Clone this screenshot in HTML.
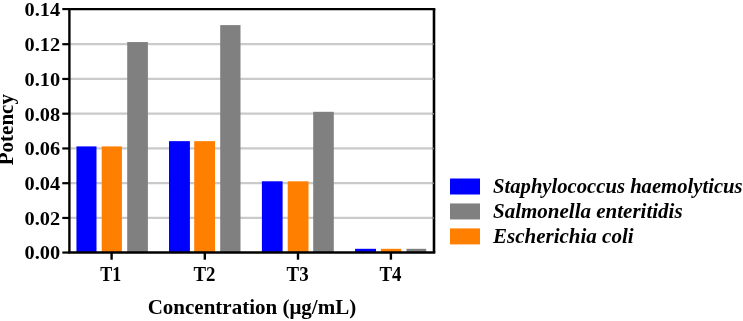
<!DOCTYPE html>
<html><head><meta charset="utf-8"><title>Potency chart</title>
<style>
html,body{margin:0;padding:0;background:#fff;overflow:hidden}
svg{display:block;will-change:transform}
text{font-family:"Liberation Serif",serif;font-weight:bold;fill:#000}
.tk{font-size:20px}
.yt{font-size:19.2px}
.ti{font-size:21px}
.lg{font-size:21px;font-style:italic}
</style></head>
<body>
<svg width="743" height="321" viewBox="0 0 743 321">
<line x1="69.4" y1="217.95" x2="434.0" y2="217.95" stroke="#cacaca" stroke-width="2.2"/>
<line x1="69.4" y1="183.20" x2="434.0" y2="183.20" stroke="#cacaca" stroke-width="2.2"/>
<line x1="69.4" y1="148.45" x2="434.0" y2="148.45" stroke="#cacaca" stroke-width="2.2"/>
<line x1="69.4" y1="113.70" x2="434.0" y2="113.70" stroke="#cacaca" stroke-width="2.2"/>
<line x1="69.4" y1="78.95" x2="434.0" y2="78.95" stroke="#cacaca" stroke-width="2.2"/>
<line x1="69.4" y1="44.20" x2="434.0" y2="44.20" stroke="#cacaca" stroke-width="2.2"/>
<rect x="76.45" y="146.4" width="20.05" height="106.15" fill="#0000ff"/>
<rect x="169.0" y="141.15" width="20.90" height="111.40" fill="#0000ff"/>
<rect x="261.9" y="181.3" width="20.70" height="71.25" fill="#0000ff"/>
<rect x="355.1" y="248.8" width="20.90" height="3.75" fill="#0000ff"/>
<rect x="101.7" y="146.4" width="20.20" height="106.15" fill="#ff8000"/>
<rect x="194.2" y="141.15" width="20.80" height="111.40" fill="#ff8000"/>
<rect x="287.7" y="181.3" width="20.80" height="71.25" fill="#ff8000"/>
<rect x="380.9" y="248.8" width="20.30" height="3.75" fill="#ff8000"/>
<rect x="127.2" y="42.05" width="20.70" height="210.50" fill="#808080"/>
<rect x="220.2" y="25.1" width="20.30" height="227.45" fill="#808080"/>
<rect x="313.2" y="111.8" width="20.60" height="140.75" fill="#808080"/>
<rect x="406.5" y="248.8" width="19.70" height="3.75" fill="#808080"/>
<line x1="68.2" y1="9.07" x2="435.3" y2="9.07" stroke="#000" stroke-width="2.15"/>
<line x1="68.2" y1="252.55" x2="435.3" y2="252.55" stroke="#000" stroke-width="2.4"/>
<line x1="69.4" y1="9.07" x2="69.4" y2="252.55" stroke="#000" stroke-width="2.4"/>
<line x1="434.0" y1="9.07" x2="434.0" y2="252.55" stroke="#000" stroke-width="2.6"/>
<line x1="432.6" y1="217.95" x2="433.8" y2="217.95" stroke="#a0a0a0" stroke-width="1.4"/>
<line x1="432.6" y1="183.20" x2="433.8" y2="183.20" stroke="#a0a0a0" stroke-width="1.4"/>
<line x1="432.6" y1="148.45" x2="433.8" y2="148.45" stroke="#a0a0a0" stroke-width="1.4"/>
<line x1="432.6" y1="113.70" x2="433.8" y2="113.70" stroke="#a0a0a0" stroke-width="1.4"/>
<line x1="432.6" y1="78.95" x2="433.8" y2="78.95" stroke="#a0a0a0" stroke-width="1.4"/>
<line x1="432.6" y1="44.20" x2="433.8" y2="44.20" stroke="#a0a0a0" stroke-width="1.4"/>
<line x1="62.3" y1="252.55" x2="69.4" y2="252.55" stroke="#000" stroke-width="2.2"/>
<text x="60.2" y="259.45" text-anchor="end" class="yt" textLength="35.6" lengthAdjust="spacingAndGlyphs">0.00</text>
<line x1="62.3" y1="217.95" x2="69.4" y2="217.95" stroke="#000" stroke-width="2.2"/>
<text x="60.2" y="224.85" text-anchor="end" class="yt" textLength="35.6" lengthAdjust="spacingAndGlyphs">0.02</text>
<line x1="62.3" y1="183.20" x2="69.4" y2="183.20" stroke="#000" stroke-width="2.2"/>
<text x="60.2" y="190.10" text-anchor="end" class="yt" textLength="35.6" lengthAdjust="spacingAndGlyphs">0.04</text>
<line x1="62.3" y1="148.45" x2="69.4" y2="148.45" stroke="#000" stroke-width="2.2"/>
<text x="60.2" y="155.35" text-anchor="end" class="yt" textLength="35.6" lengthAdjust="spacingAndGlyphs">0.06</text>
<line x1="62.3" y1="113.70" x2="69.4" y2="113.70" stroke="#000" stroke-width="2.2"/>
<text x="60.2" y="120.60" text-anchor="end" class="yt" textLength="35.6" lengthAdjust="spacingAndGlyphs">0.08</text>
<line x1="62.3" y1="78.95" x2="69.4" y2="78.95" stroke="#000" stroke-width="2.2"/>
<text x="60.2" y="85.85" text-anchor="end" class="yt" textLength="35.6" lengthAdjust="spacingAndGlyphs">0.10</text>
<line x1="62.3" y1="44.20" x2="69.4" y2="44.20" stroke="#000" stroke-width="2.2"/>
<text x="60.2" y="51.10" text-anchor="end" class="yt" textLength="35.6" lengthAdjust="spacingAndGlyphs">0.12</text>
<line x1="62.3" y1="9.07" x2="69.4" y2="9.07" stroke="#000" stroke-width="2.2"/>
<text x="60.2" y="15.97" text-anchor="end" class="yt" textLength="35.6" lengthAdjust="spacingAndGlyphs">0.14</text>
<line x1="111.6" y1="252.55" x2="111.6" y2="259.7" stroke="#000" stroke-width="2.4"/>
<text x="110.70" y="280.6" text-anchor="middle" class="tk" textLength="20.9" lengthAdjust="spacingAndGlyphs">T1</text>
<line x1="204.8" y1="252.55" x2="204.8" y2="259.7" stroke="#000" stroke-width="2.4"/>
<text x="204.40" y="280.6" text-anchor="middle" class="tk" textLength="22" lengthAdjust="spacingAndGlyphs">T2</text>
<line x1="298.0" y1="252.55" x2="298.0" y2="259.7" stroke="#000" stroke-width="2.4"/>
<text x="297.60" y="280.6" text-anchor="middle" class="tk" textLength="22" lengthAdjust="spacingAndGlyphs">T3</text>
<line x1="390.9" y1="252.55" x2="390.9" y2="259.7" stroke="#000" stroke-width="2.4"/>
<text x="390.50" y="280.6" text-anchor="middle" class="tk" textLength="22" lengthAdjust="spacingAndGlyphs">T4</text>
<text x="147.7" y="313.7" class="ti" textLength="208.5" lengthAdjust="spacingAndGlyphs">Concentration (μg/mL)</text>
<text transform="translate(13.4,165.2) rotate(-90)" x="0" y="0" class="ti" textLength="71.1" lengthAdjust="spacingAndGlyphs">Potency</text>
<rect x="450" y="178.50" width="30" height="16" fill="#0000ff"/>
<text x="493" y="192.6" class="lg" textLength="249.6" lengthAdjust="spacingAndGlyphs">Staphylococcus haemolyticus</text>
<rect x="450" y="203.45" width="30" height="16" fill="#808080"/>
<text x="493" y="217.5" class="lg">Salmonella enteritidis</text>
<rect x="450" y="228.40" width="30" height="16" fill="#ff8000"/>
<text x="493" y="242.5" class="lg">Escherichia coli</text>
</svg>
</body></html>
